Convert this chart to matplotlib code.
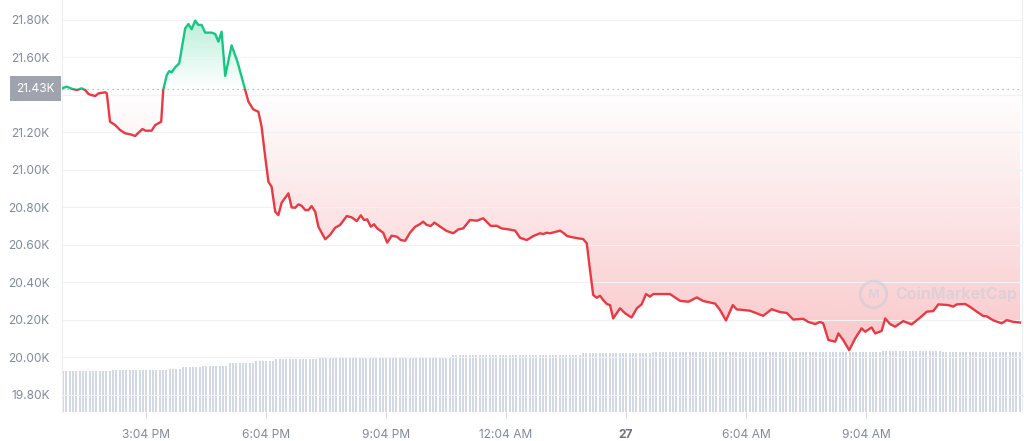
import numpy as np
import matplotlib
matplotlib.use('Agg')
import matplotlib.pyplot as plt
from matplotlib.patches import Rectangle
from matplotlib.path import Path

plt.rcParams['font.family'] = ['Inter', 'DejaVu Sans']

# hours since 12:58 PM (26th) and BTC price in USD
HOURS = [0.00, 0.12, 0.24, 0.37, 0.49, 0.58, 0.66, 0.74, 0.83, 0.91, 1.08, 1.12,
         1.20, 1.33, 1.45, 1.58, 1.70, 1.83, 1.91, 2.01, 2.09, 2.24, 2.33, 2.48,
         2.53, 2.62, 2.68, 2.74, 2.83, 2.93, 3.08, 3.16, 3.24, 3.33, 3.41, 3.49,
         3.58, 3.74, 3.83, 3.91, 3.99, 4.08, 4.24, 4.37, 4.41, 4.58, 4.66, 4.78,
         4.91, 4.99, 5.08, 5.16, 5.24, 5.33, 5.41, 5.49, 5.66, 5.74, 5.83, 5.91,
         5.99, 6.08, 6.16, 6.24, 6.33, 6.41, 6.58, 6.70, 6.83, 6.95, 7.12, 7.24,
         7.37, 7.47, 7.55, 7.63, 7.72, 7.80, 7.88, 8.03, 8.13, 8.24, 8.37, 8.47,
         8.58, 8.70, 8.83, 8.95, 9.03, 9.12, 9.22, 9.31, 9.45, 9.62, 9.78, 9.91,
         10.03, 10.20, 10.37, 10.53, 10.72, 10.87, 10.99, 11.16, 11.33, 11.45, 11.62, 11.78,
         11.95, 12.03, 12.12, 12.20, 12.33, 12.45, 12.53, 12.63, 12.78, 12.91, 13.03, 13.12,
         13.20, 13.28, 13.37, 13.45, 13.53, 13.62, 13.70, 13.78, 13.95, 14.08, 14.24, 14.37,
         14.49, 14.60, 14.70, 14.78, 15.20, 15.45, 15.66, 15.87, 16.03, 16.33, 16.45, 16.60,
         16.77, 16.87, 17.03, 17.20, 17.53, 17.74, 17.95, 18.12, 18.28, 18.53, 18.66, 18.83,
         18.95, 19.03, 19.16, 19.33, 19.41, 19.53, 19.68, 19.83, 19.99, 20.08, 20.24, 20.33,
         20.49, 20.58, 20.70, 20.83, 21.03, 21.24, 21.45, 21.62, 21.78, 21.91, 22.16, 22.28,
         22.37, 22.58, 22.70, 22.87, 23.03, 23.12, 23.28, 23.49, 23.62, 23.78, 23.95]

PRICE = [21433, 21442, 21431, 21424, 21433, 21424, 21403, 21397, 21392, 21406, 21412, 21406,
         21255, 21237, 21211, 21193, 21188, 21179, 21196, 21216, 21207, 21207, 21237, 21255,
         21424, 21504, 21525, 21518, 21545, 21566, 21753, 21776, 21748, 21794, 21771, 21771,
         21730, 21730, 21723, 21682, 21735, 21499, 21662, 21584, 21557, 21424, 21362, 21321,
         21308, 21228, 21068, 20935, 20908, 20775, 20757, 20823, 20873, 20798, 20796, 20814,
         20807, 20784, 20784, 20805, 20775, 20695, 20628, 20651, 20690, 20704, 20752, 20745,
         20725, 20756, 20731, 20734, 20695, 20708, 20686, 20663, 20610, 20647, 20642, 20624,
         20620, 20663, 20695, 20709, 20722, 20704, 20699, 20717, 20696, 20672, 20660, 20681,
         20686, 20731, 20727, 20740, 20699, 20700, 20686, 20681, 20674, 20636, 20624, 20645,
         20660, 20656, 20663, 20660, 20667, 20674, 20663, 20645, 20638, 20633, 20629, 20606,
         20464, 20331, 20316, 20327, 20304, 20283, 20277, 20206, 20260, 20233, 20211, 20260,
         20281, 20336, 20322, 20336, 20336, 20300, 20295, 20318, 20299, 20285, 20251, 20195,
         20277, 20254, 20251, 20247, 20220, 20255, 20240, 20235, 20200, 20204, 20187, 20176,
         20187, 20180, 20091, 20082, 20126, 20091, 20037, 20100, 20153, 20135, 20158, 20126,
         20139, 20206, 20176, 20162, 20192, 20174, 20210, 20242, 20245, 20281, 20277, 20269,
         20281, 20283, 20268, 20242, 20219, 20217, 20196, 20180, 20197, 20188, 20184]

OPEN_PRICE = 21430

# 24h volume (B USD), one bar every 5 minutes
VOLUME = [
    27.9, 27.9, 27.9, 27.9, 27.9, 27.9, 27.9, 27.9, 27.9, 27.9, 27.9, 27.9,
    27.9, 27.9, 27.9, 28.6, 28.6, 28.6, 28.6, 28.6, 28.6, 28.6, 28.6, 28.6,
    28.6, 28.6, 28.6, 28.6, 28.6, 28.6, 28.6, 28.6, 29.4, 29.4, 29.4, 29.4,
    30.6, 30.6, 30.6, 30.6, 30.6, 30.6, 31.5, 31.5, 31.5, 31.5, 31.5, 31.5,
    31.5, 31.5, 33.5, 33.5, 33.5, 33.5, 33.5, 33.5, 33.5, 33.5, 34.5, 34.5,
    34.5, 34.5, 34.5, 34.5, 36.0, 36.0, 36.0, 36.0, 36.0, 36.0, 36.0, 36.0,
    36.0, 36.0, 36.0, 36.0, 36.0, 37.4, 37.4, 37.4, 37.4, 37.4, 37.4, 37.4,
    37.4, 37.4, 37.4, 37.7, 37.7, 37.7, 37.7, 37.7, 37.7, 37.7, 37.7, 37.7,
    37.7, 37.7, 37.7, 37.7, 37.7, 37.7, 37.7, 37.7, 37.7, 37.7, 37.7, 37.7,
    37.7, 37.7, 37.7, 37.7, 37.7, 37.7, 37.7, 37.7, 37.7, 38.8, 38.8, 38.8,
    38.8, 38.8, 38.8, 38.8, 38.8, 38.8, 38.8, 38.8, 38.8, 38.8, 38.8, 38.8,
    38.8, 38.8, 38.8, 38.8, 38.8, 38.8, 38.8, 38.8, 38.8, 38.8, 38.8, 38.8,
    38.8, 38.8, 38.8, 38.8, 38.8, 38.8, 38.8, 38.8, 38.8, 38.8, 38.8, 38.8,
    40.1, 40.1, 40.1, 40.1, 40.1, 40.1, 40.1, 40.1, 40.1, 40.1, 40.1, 40.1,
    40.1, 40.1, 40.1, 40.1, 40.1, 40.1, 40.1, 40.1, 40.1, 40.8, 40.8, 40.8,
    40.8, 40.8, 40.8, 40.8, 40.8, 40.8, 40.8, 40.8, 40.8, 40.8, 40.8, 40.8,
    40.8, 40.8, 40.8, 40.8, 40.8, 40.8, 40.8, 40.8, 40.8, 40.8, 40.8, 40.8,
    40.8, 40.8, 40.8, 40.8, 40.8, 40.8, 40.8, 40.8, 40.8, 40.8, 40.8, 40.8,
    40.8, 40.8, 40.8, 40.8, 40.8, 40.8, 40.8, 40.8, 40.8, 40.8, 40.8, 40.8,
    40.8, 40.8, 40.8, 40.8, 40.8, 40.8, 40.8, 40.8, 40.8, 40.8, 40.8, 40.8,
    40.8, 40.8, 40.8, 40.8, 40.8, 40.8, 41.5, 41.5, 41.5, 41.5, 41.5, 41.5,
    41.5, 41.5, 41.5, 41.5, 41.5, 41.5, 41.5, 41.5, 41.5, 41.5, 41.5, 41.5,
    40.8, 40.8, 40.8, 40.8, 40.8, 40.8, 40.8, 40.8, 40.8, 40.8, 40.8, 40.8,
    40.8, 40.8, 40.8, 40.8, 40.8, 40.8, 40.8, 40.8, 40.8, 40.8, 40.8, 40.8,
]

Y_TICKS = [19800, 20000, 20200, 20400, 20600, 20800, 21000, 21200, 21400, 21600, 21800]
Y_LABELS = ['19.80K', '20.00K', '20.20K', '20.40K', '20.60K', '20.80K', '21.00K',
            '21.20K', '', '21.60K', '21.80K']
X_TICKS = [2.1, 5.1, 8.1, 11.1, 14.1, 17.1, 20.1]
X_LABELS = ['3:04 PM', '6:04 PM', '9:04 PM', '12:04 AM', '27', '6:04 AM', '9:04 AM']

RED = '#ea3943'
GREEN = '#16c784'
TEXT = '#808a9d'

t = np.array(HOURS)
p = np.array(PRICE, dtype=float)
YLO, YHI = 19707, 21904

fig = plt.figure(figsize=(10.24, 4.41), dpi=100)
ax2 = fig.add_axes([62 / 1024, 1 - 412 / 441, 960 / 1024, 412 / 441])
ax = fig.add_axes([62 / 1024, 1 - 412 / 441, 960 / 1024, 412 / 441])
ax.set_zorder(ax2.get_zorder() + 1)
ax.patch.set_visible(False)

# volume bars (background axis)
vt = np.arange(len(VOLUME)) / 12.0
ax2.bar(vt, VOLUME, width=0.048, align='edge', color='#d3d8e6', linewidth=0)
ax2.set_ylim(0, 280.2)
ax2.set_xlim(0, 24)
ax2.axis('off')


def gradient(ax, y, rgb, lo, hi, a_lo, a_hi):
    fill = ax.fill_between(t, y, OPEN_PRICE, facecolor='none', edgecolor='none')
    clip = Path.make_compound_path(*fill.get_paths())
    img = np.zeros((256, 1, 4))
    img[..., :3] = matplotlib.colors.to_rgb(rgb)
    img[:, 0, 3] = np.linspace(a_lo, a_hi, 256)
    im = ax.imshow(img, extent=[0, 24, lo, hi], origin='lower', aspect='auto',
                   interpolation='bilinear', zorder=1)
    im.set_clip_path(clip, transform=ax.transData)


gradient(ax, np.minimum(p, OPEN_PRICE), RED, 20030, OPEN_PRICE, 0.28, 0.0)
gradient(ax, np.maximum(p, OPEN_PRICE), GREEN, OPEN_PRICE, 21800, 0.0, 0.30)

# price line, green above the open price, red below
for col, y0, h in [(RED, YLO, OPEN_PRICE - YLO), (GREEN, OPEN_PRICE, YHI - OPEN_PRICE)]:
    ln, = ax.plot(t, p, color=col, lw=1.7, zorder=3, solid_joinstyle='round')
    ln.set_clip_path(Rectangle((0, y0), 24, h, transform=ax.transData))

ax.axhline(OPEN_PRICE, color='#a7abb3', lw=0.9, ls=(0, (1, 3)), zorder=2)

ax.set_xlim(0, 24)
ax.set_ylim(YLO, YHI)
ax.set_yticks(Y_TICKS)
ax.set_yticklabels(Y_LABELS)
ax.set_xticks(X_TICKS)
ax.set_xticklabels(X_LABELS)
ax.grid(axis='y', color='#f1f2f4', lw=0.8, zorder=0)
ax.tick_params(axis='y', length=0, pad=9, labelsize=8.6, labelcolor=TEXT)
ax.tick_params(axis='x', length=4, width=0.8, color='#d6d9df', pad=8,
               labelsize=8.6, labelcolor=TEXT)
xl = ax.get_xticklabels()
xl[4].set_fontweight('bold')
xl[4].set_color('#6b7280')
for s in ['top', 'bottom']:
    ax.spines[s].set_visible(False)
for s in ['left', 'right']:
    ax.spines[s].set_color('#eceef1')
    ax.spines[s].set_linewidth(0.8)

# open price label box
ax.text(-0.0075, OPEN_PRICE, '21.43K', transform=ax.get_yaxis_transform(),
        ha='right', va='center', fontsize=8.6, color='white', zorder=5,
        bbox=dict(boxstyle='square,pad=0.55', fc='#9ea3ad', ec='none'),
        clip_on=False)

# watermark
ax.plot([0.845], [0.287], 'o', transform=ax.transAxes, ms=19, mfc='none',
        mec='#c8cdd8', mew=2.2, alpha=0.55, zorder=2)
ax.text(0.845, 0.283, 'M', transform=ax.transAxes, ha='center', va='center',
        fontsize=9, fontweight='bold', color='#c8cdd8', alpha=0.55, zorder=2)
ax.text(0.868, 0.287, 'CoinMarketCap', transform=ax.transAxes, ha='left',
        va='center', fontsize=11.5, fontweight='bold', color='#c8cdd8',
        alpha=0.55, zorder=2)

fig.savefig('out.png', dpi=100, facecolor='white')
